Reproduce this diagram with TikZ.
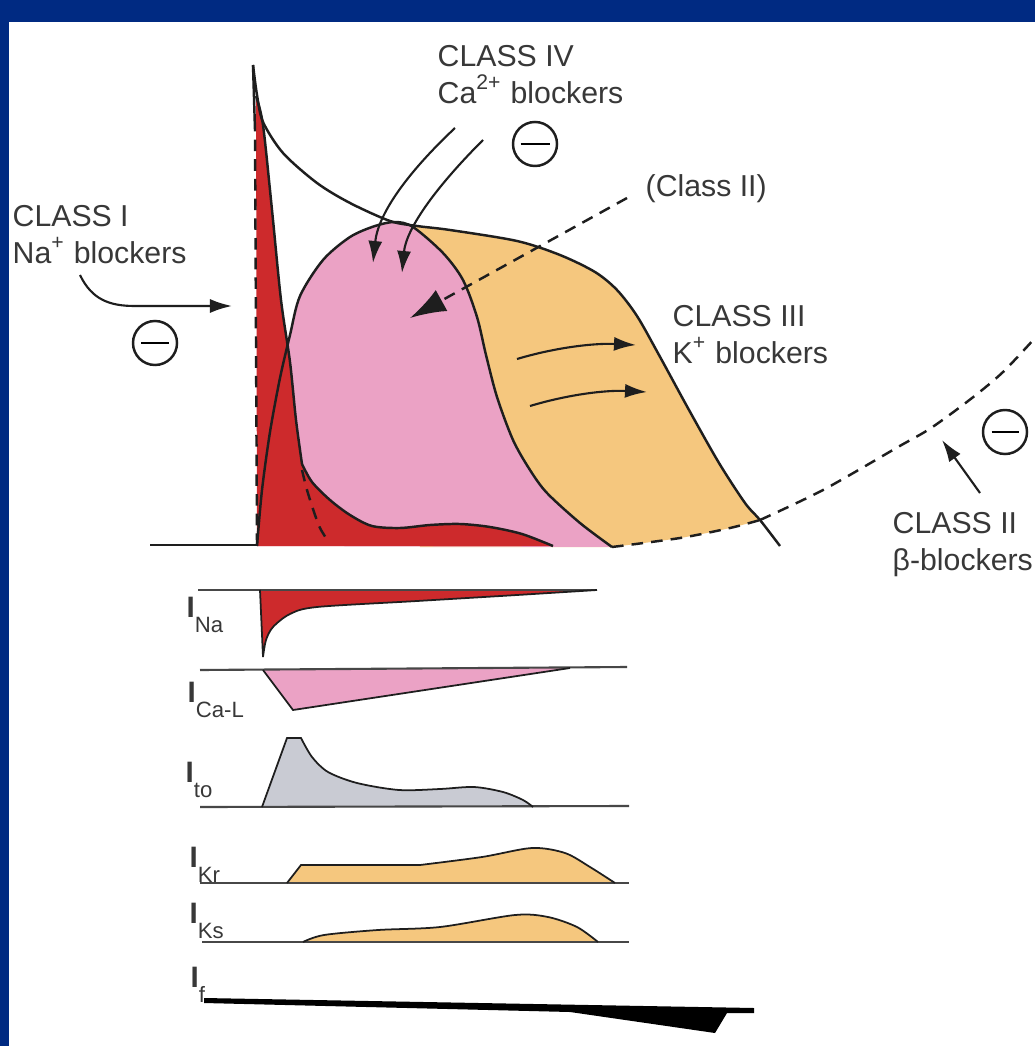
\documentclass[tikz,border=0pt]{standalone}
\usepackage{fontspec}
\setmainfont{Liberation Sans}
\usetikzlibrary{arrows.meta,positioning,calc}
\definecolor{frameblue}{HTML}{002A82}
\definecolor{naRed}{HTML}{CD2A2C}
\definecolor{caPink}{HTML}{EBA2C5}
\definecolor{kOrange}{HTML}{F5C77E}
\definecolor{toGray}{HTML}{C9CBD3}
\definecolor{inkline}{HTML}{1E1E1E}
\definecolor{labelgray}{HTML}{383838}
\newcommand{\curI}[1]{\textbf{I}\raisebox{-4.5pt}{\fontsize{6.3}{7}\selectfont\mdseries #1}}

\begin{document}
\begin{tikzpicture}[x=0.01cm,y=-0.01cm,>={Latex[length=0.22cm,width=0.14cm]},
 trace/.style={draw=inkline,line width=0.7pt},
 dashtrace/.style={trace,dash pattern=on 3.3pt off 2.3pt},
 drug/.style={->,draw=inkline,line width=0.6pt},
 classlbl/.style={font=\fontsize{8.6}{10.3}\selectfont,text=labelgray,align=left,inner sep=0pt},
 curlbl/.style={font=\fontsize{8.4}{9}\selectfont,text=labelgray,inner sep=0pt,anchor=base west},
 zeroline/.style={draw=black!72,line width=0.6pt},
 curve/.style={draw=inkline,line width=0.5pt},
 blocksign/.style={circle,draw=inkline,line width=0.7pt,minimum size=0.44cm,inner sep=0pt}]
\useasboundingbox (0,0) rectangle (1035,1046);
\fill[frameblue] (0,0) rectangle (1035,1046);
\fill[white] (9,22) rectangle (1035,1046);

% action potential: plateau and repolarisation
\fill[kOrange] plot[smooth] coordinates {(390,221) (417,226) (450,230) (517,241) (560,255) (595,272) (617,290) (637,316) (659,355) (689,410) (719,463) (745,503) (760,520)}
  -- plot[smooth] coordinates {(760,520) (730,528) (680,538) (612,547)} -- (420,547) -- cycle;
\fill[caPink] plot[smooth] coordinates {(257,546) (262,490) (270,432) (280,378) (290,335) (300,296) (323,260) (350,237) (375,226) (395,222) (413,227) (443,253) (463,280) (477,317) (486,355) (497,397) (513,440) (530,470) (547,493) (580,523) (612,547)} -- cycle;
\fill[naRed] (257,546) -- (256,96)
  -- plot[smooth] coordinates {(256,96) (263,125) (272,210) (281,300) (290,362) (296,420) (302,464)}
  -- plot[smooth] coordinates {(302,464) (312,482) (330,500) (350,515) (372,526) (400,528) (430,525) (460,524) (490,527) (522,534) (553,546)} -- cycle;

\draw[trace] (150,545) -- (257,545);
\draw[dashtrace] (257,545) -- (255,130);
\draw[trace] (255,130) -- (253,65);
\draw[trace] plot[smooth] coordinates {(253,65) (257,95) (263,122) (283,153) (317,183) (350,203) (390,221) (417,226) (450,230) (517,241) (560,255) (595,272) (617,290) (637,316) (659,355) (689,410) (719,463) (745,503) (760,520) (780,546)};
\draw[trace] plot[smooth] coordinates {(257,546) (262,490) (270,432) (280,378) (290,335) (300,296) (323,260) (350,237) (375,226) (395,222) (413,227) (443,253) (463,280) (477,317) (486,355) (497,397) (513,440) (530,470) (547,493) (580,523) (612,547)};
\draw[trace] plot[smooth] coordinates {(256,96) (263,125) (272,210) (281,300) (290,362) (296,420) (302,464)};
\draw[trace] plot[smooth] coordinates {(302,464) (312,482) (330,500) (350,515) (372,526) (400,528) (430,525) (460,524) (490,527) (522,534) (553,546)};
\draw[dashtrace] plot[smooth] coordinates {(302,470) (307,490) (314,512) (320,528) (328,541)};
\draw[dashtrace] plot[smooth] coordinates {(612,547) (680,538) (730,528) (760,520)};
\draw[dashtrace] plot[smooth] coordinates {(760,520) (823,490) (898,447) (931,428) (972,398) (1003,372) (1035,338)};

% drug classes
\node[classlbl,anchor=north west] (cls1) at (12,205) {CLASS I\\Na\textsuperscript{+} blockers};
\node[blocksign] (neg1) at (155,343) {\rule{0.27cm}{0.7pt}};
\coordinate (naFrom) at (80,275);
\coordinate (naTo) at (232,306);
\draw[drug] (naFrom) .. controls +(12,25) and +(-25,0) .. ++(55,31) -- (naTo);

\node[classlbl,anchor=north west] (cls4) at (437,45) {CLASS IV\\Ca\textsuperscript{2+} blockers};
\node[blocksign] (neg4) at (535,144) {\rule{0.29cm}{0.7pt}};
\coordinate (ca1From) at (455,128);
\coordinate (ca1To) at (373,263);
\coordinate (ca2From) at (483,140);
\coordinate (ca2To) at (402,273);
\draw[drug] (ca1From) .. controls +(-50,47) and +(5,-48) .. (ca1To);
\draw[drug] (ca2From) .. controls +(-50,50) and +(4,-43) .. (ca2To);

\node[classlbl,anchor=base west] (cls2s) at (645,197) {(Class II)};
\coordinate (symFrom) at (627,198);
\coordinate (symTo) at (410,318);
\draw[dashtrace,-{Latex[length=0.36cm,width=0.24cm]}] (symFrom) -- (symTo);

\node[classlbl,anchor=north west] (cls3) at (672,305) {CLASS III\\K\textsuperscript{+} blockers};
\coordinate (k1From) at (517,359);
\coordinate (k1To) at (636,345);
\coordinate (k2From) at (530,406);
\coordinate (k2To) at (647,392);
\draw[drug] (k1From) .. controls +(40,-12) and +(-40,-2) .. (k1To);
\draw[drug] (k2From) .. controls +(40,-12) and +(-40,-2) .. (k2To);

\node[classlbl,anchor=north west] (cls2) at (892,512) {CLASS II\\β-blockers};
\node[blocksign] (neg2) at (1005,432) {\rule{0.27cm}{0.7pt}};
\coordinate (betaFrom) at (980,493);
\coordinate (betaTo) at (942,440);
\draw[drug] (betaFrom) -- (betaTo);

% ionic currents
\fill[naRed] (260,590) -- plot[smooth] coordinates {(263,657) (266,640) (273,627) (290,614) (317,607) (417,601) (517,595) (597,590)} -- cycle;
\draw[zeroline] (198,590) -- (597,590);
\draw[curve] (260,590) -- plot[smooth] coordinates {(263,657) (266,640) (273,627) (290,614) (317,607) (417,601) (517,595) (597,590)};
\node[curlbl] (lblNa) at (186,617) {\curI{Na}};

\fill[caPink] (263,670) -- (293,710) -- (570,668) -- cycle;
\draw[zeroline] (200,670) -- (627,667);
\draw[curve] (263,670) -- (293,710) -- (570,668);
\node[curlbl] (lblCa) at (187,702) {\curI{Ca-L}};

\fill[toGray] (262,807) -- (287,738) -- plot[smooth] coordinates {(301,738) (312,757) (328,772) (357,783) (399,790) (440,789) (474,787) (503,792) (523,800) (533,807)} -- cycle;
\draw[zeroline] (200,807) -- (629,806);
\draw[curve] (262,807) -- (287,738) -- plot[smooth] coordinates {(301,738) (312,757) (328,772) (357,783) (399,790) (440,789) (474,787) (503,792) (523,800) (533,807)};
\node[curlbl] (lblTo) at (185,782) {\curI{to}};

\fill[kOrange] (287,883) -- (301,865) -- plot[smooth] coordinates {(420,865) (482,857) (532,848) (565,853) (590,867) (615,883)} -- cycle;
\draw[zeroline] (200,883) -- (629,883);
\draw[curve] (287,883) -- (301,865) -- plot[smooth] coordinates {(420,865) (482,857) (532,848) (565,853) (590,867) (615,883)};
\node[curlbl] (lblKr) at (189,867) {\curI{Kr}};

\fill[kOrange] plot[smooth] coordinates {(303,942) (324,935) (378,930) (440,927) (515,915) (548,917) (577,927) (598,942)} -- cycle;
\draw[zeroline] (202,942) -- (629,942);
\draw[curve] plot[smooth] coordinates {(303,942) (324,935) (378,930) (440,927) (515,915) (548,917) (577,927) (598,942)};
\node[curlbl] (lblKs) at (189,923) {\curI{Ks}};

\fill[black] (204,998) -- (754,1008) -- (754,1013) -- (727,1013) -- (715,1033) -- (570,1012) -- (204,1003) -- cycle;
\node[curlbl] (lblF) at (190,987) {\curI{f}};
\end{tikzpicture}
\end{document}
